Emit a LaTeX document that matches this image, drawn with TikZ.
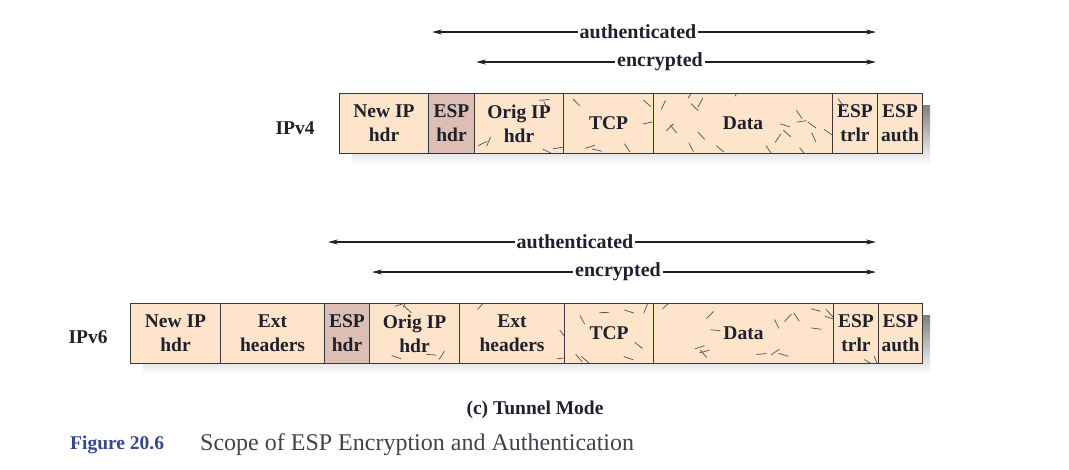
\documentclass[tikz,border=0pt]{standalone}
\usepackage{fontspec}
\setmainfont{Liberation Serif}
\usetikzlibrary{arrows.meta}
\definecolor{peach}{RGB}{253,228,202}
\definecolor{esphdr}{RGB}{221,190,180}
\definecolor{shade}{RGB}{150,151,154}
\definecolor{edge}{RGB}{55,55,60}
\definecolor{ink}{RGB}{30,32,45}
\definecolor{figblue}{RGB}{52,72,140}
\tikzset{
  fieldbox/.style={draw=edge, line width=1pt, anchor=north west, minimum height=60pt, inner sep=0pt, align=center, font=\fontsize{19.5}{24}\selectfont\bfseries, text=ink},
  rowlbl/.style={font=\fontsize{19.5}{24}\selectfont\bfseries, text=ink},
  arrlbl/.style={font=\fontsize{20}{24}\selectfont\bfseries, text=ink, fill=white, inner sep=2pt},
  scopearrow/.style={line width=1.3pt, draw=ink, {Stealth[length=10pt,width=5pt]}-{Stealth[length=10pt,width=5pt]}},
  speck/.style={line width=0.75pt, draw=black!65},
}
% \mkfield{name}{x1}{x2}{ytop}{fill}{text}
\newcommand{\mkfield}[6]{%
  \node[fieldbox, minimum width={(#3-#2)*1pt}] (#1) at (#2,#4) {#6};}
\newcommand{\mkfill}[5]{\fill[#5] (#1,#3) rectangle (#2,#4);}
% \specks{x1}{x2}{ytop}{count}{half width of text zone}
\newcommand{\specks}[5]{%
  \begin{scope}
  \clip (#1,#3) rectangle (#2,#3+60);
  \foreach \i in {1,...,#4}{%
    \pgfmathsetmacro{\px}{#1+4+rnd*(#2-#1-8)}%
    \pgfmathsetmacro{\py}{#3+3+rnd*54}%
    \pgfmathsetmacro{\pa}{-70+rnd*140}%
    \pgfmathtruncatemacro{\inside}{and(abs(\px-(#1+#2)/2)<#5, and(\py>#3+10, \py<#3+50))}%
    \ifnum\inside=0
      \draw[speck] (\px,\py) -- ++(\pa:10);
    \fi
  }
  \end{scope}}
\begin{document}
\begin{tikzpicture}[x=1pt,y=-1pt]
\useasboundingbox (0,0) rectangle (1069,469);
\pgfmathsetseed{4711}
% ---------------- IPv4 ----------------
\node[rowlbl] (v4) at (295,128) {IPv4};
\fill[shade] (352,105) rectangle (930,165);
\mkfill{339}{922}{93}{153}{peach}
\mkfill{428}{474}{93}{153}{esphdr}
\specks{474}{563}{93}{14}{38}
\specks{563}{653}{93}{14}{26}
\specks{653}{832}{93}{26}{30}
\specks{832}{877}{93}{8}{18}
\mkfield{f4a}{339}{428}{93}{peach}{New IP\\hdr}
\mkfield{f4b}{428}{474}{93}{esphdr}{ESP\\hdr}
\mkfield{f4c}{474}{563}{93}{peach}{Orig IP\\hdr}
\mkfield{f4d}{563}{653}{93}{peach}{TCP}
\mkfield{f4e}{653}{832}{93}{peach}{Data}
\mkfield{f4f}{832}{877}{93}{peach}{ESP\\trlr}
\mkfield{f4g}{877}{922}{93}{peach}{ESP\\auth}
% arrows IPv4
\coordinate (a4l) at (432,32); \coordinate (a4r) at (876,32);
\coordinate (e4l) at (476,62); \coordinate (e4r) at (876,62);
\draw[scopearrow] (a4l) -- (a4r);
\draw[scopearrow] (e4l) -- (e4r);
\node[arrlbl] (a4t) at (638,32) {authenticated};
\node[arrlbl] (e4t) at (660,62) {encrypted};
% ---------------- IPv6 ----------------
\node[rowlbl] (v6) at (88,337) {IPv6};
\fill[shade] (143,315) rectangle (930,375);
\mkfill{130}{922}{303}{363}{peach}
\mkfill{324}{369}{303}{363}{esphdr}
\specks{369}{459}{303}{14}{38}
\specks{459}{564}{303}{14}{40}
\specks{564}{653}{303}{14}{26}
\specks{653}{833}{303}{26}{30}
\specks{833}{878}{303}{8}{18}
\mkfield{f6a}{130}{220}{303}{peach}{New IP\\hdr}
\mkfield{f6b}{220}{324}{303}{peach}{Ext\\headers}
\mkfield{f6c}{324}{369}{303}{esphdr}{ESP\\hdr}
\mkfield{f6d}{369}{459}{303}{peach}{Orig IP\\hdr}
\mkfield{f6e}{459}{564}{303}{peach}{Ext\\headers}
\mkfield{f6f}{564}{653}{303}{peach}{TCP}
\mkfield{f6g}{653}{833}{303}{peach}{Data}
\mkfield{f6h}{833}{878}{303}{peach}{ESP\\trlr}
\mkfield{f6i}{878}{922}{303}{peach}{ESP\\auth}
% arrows IPv6
\coordinate (a6l) at (328,242); \coordinate (a6r) at (876,242);
\coordinate (e6l) at (372,272); \coordinate (e6r) at (876,272);
\draw[scopearrow] (a6l) -- (a6r);
\draw[scopearrow] (e6l) -- (e6r);
\node[arrlbl] (a6t) at (575,242) {authenticated};
\node[arrlbl] (e6t) at (618,272) {encrypted};
% ---------------- captions ----------------
\node[font=\fontsize{19.5}{24}\selectfont\bfseries, text=ink] (sub) at (535,410) {(c) Tunnel Mode};
\node[anchor=west, inner sep=0pt, font=\fontsize{19.5}{24}\selectfont\bfseries, text=figblue] (fignum) at (70,445) {Figure 20.6};
\node[anchor=west, inner sep=0pt, font=\fontsize{24}{28}\selectfont, text=ink!85] (figtxt) at (200,445) {Scope of ESP Encryption and Authentication};
\end{tikzpicture}
\end{document}
